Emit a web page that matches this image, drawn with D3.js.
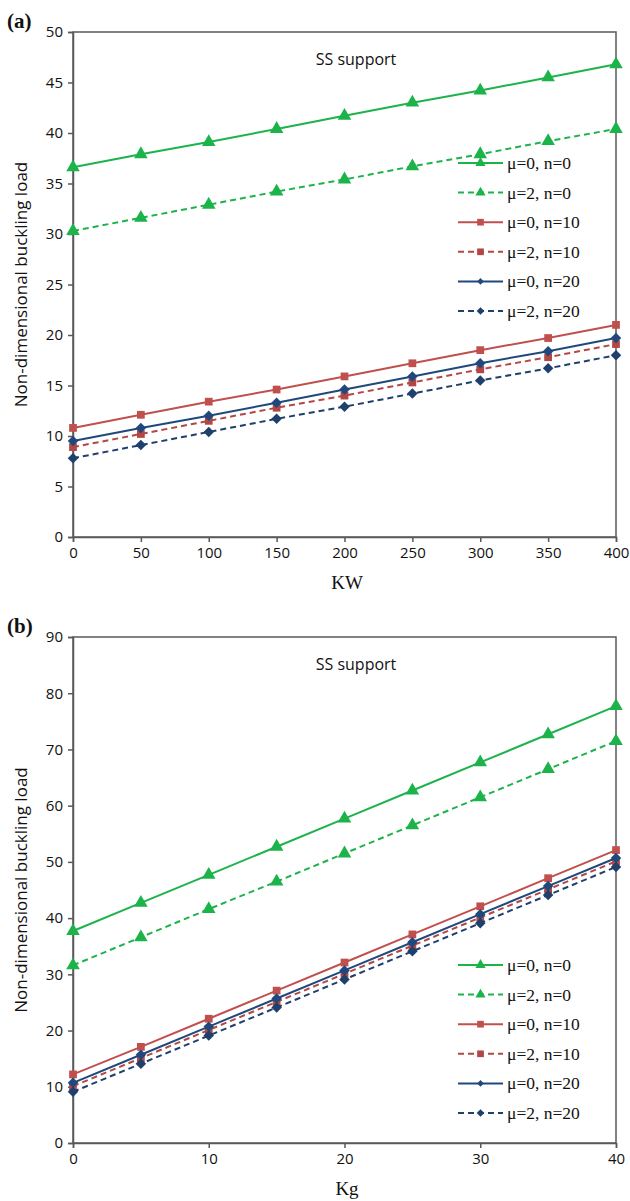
<!DOCTYPE html>
<html>
<head>
<meta charset="utf-8">
<script src="https://cdn.jsdelivr.net/npm/d3@7"></script>
<style>
  body { margin: 0; background: #fff; }
  .axis path, .axis line { stroke: #595959; }
</style>
</head>
<body>
<div id="chart"></div>
<script>
const WIDTH = 630, HEIGHT = 1201;
const SANS = "'Open Sans', 'Noto Sans', sans-serif";
const SERIF = "'Times New Roman', 'Liberation Serif', 'DejaVu Serif', serif";

// series labels (shared by both panels)
const seriesNames = ["μ=0, n=0", "μ=2, n=0", "μ=0, n=10", "μ=2, n=10", "μ=0, n=20", "μ=2, n=20"];

// panel (a): load vs KW
const kwValues = [0, 50, 100, 150, 200, 250, 300, 350, 400];
const a_mu0_n0  = [36.6, 37.9, 39.1, 40.4, 41.7, 43.0, 44.2, 45.5, 46.8];
const a_mu2_n0  = [30.3, 31.6, 32.9, 34.2, 35.4, 36.7, 37.9, 39.2, 40.4];
const a_mu0_n10 = [10.8, 12.1, 13.4, 14.6, 15.9, 17.2, 18.5, 19.7, 21.0];
const a_mu2_n10 = [8.9, 10.2, 11.5, 12.8, 14.0, 15.3, 16.6, 17.8, 19.1];
const a_mu0_n20 = [9.5, 10.8, 12.0, 13.3, 14.6, 15.9, 17.2, 18.4, 19.7];
const a_mu2_n20 = [7.8, 9.1, 10.4, 11.7, 12.9, 14.2, 15.5, 16.7, 18.0];
const a_yTicks = [0, 5, 10, 15, 20, 25, 30, 35, 40, 45, 50];

// panel (b): load vs Kg
const kgValues = [0, 5, 10, 15, 20, 25, 30, 35, 40];
const b_mu0_n0  = [37.7, 42.7, 47.7, 52.7, 57.7, 62.7, 67.7, 72.7, 77.7];
const b_mu2_n0  = [31.6, 36.6, 41.6, 46.5, 51.5, 56.5, 61.5, 66.5, 71.5];
const b_mu0_n10 = [12.2, 17.1, 22.1, 27.1, 32.1, 37.1, 42.1, 47.1, 52.1];
const b_mu2_n10 = [10.1, 15.1, 20.1, 25.1, 30.1, 35.1, 40.1, 45.1, 50.1];
const b_mu0_n20 = [10.7, 15.7, 20.7, 25.7, 30.7, 35.7, 40.7, 45.7, 50.7];
const b_mu2_n20 = [9.1, 14.1, 19.1, 24.1, 29.1, 34.1, 39.1, 44.1, 49.1];
const b_xTicks = [0, 10, 20, 30, 40];
const b_yTicks = [0, 10, 20, 30, 40, 50, 60, 70, 80, 90];

// diamond = square turned 45 degrees
const styles = [
  { color: "#1db34b", dash: null,  mark: d3.symbolTriangle, size: 80, legSize: 45, rot: 0 },
  { color: "#1db34b", dash: "6,4", mark: d3.symbolTriangle, size: 80, legSize: 45, rot: 0 },
  { color: "#c0504d", dash: null,  mark: d3.symbolSquare,   size: 60, legSize: 45, rot: 0 },
  { color: "#b34745", dash: "6,4", mark: d3.symbolSquare,   size: 60, legSize: 45, rot: 0 },
  { color: "#1f497d", dash: null,  mark: d3.symbolSquare,   size: 55, legSize: 22, rot: 45 },
  { color: "#1f3f6d", dash: "6,4", mark: d3.symbolSquare,   size: 55, legSize: 30, rot: 45 }
];

const svg = d3.select("#chart").append("svg")
  .attr("width", WIDTH).attr("height", HEIGHT);

function panel(opt) {
  const x = d3.scaleLinear().domain(opt.xDomain).range([73, 616]);
  const y = d3.scaleLinear().domain(opt.yDomain).range([opt.bottom, opt.top]);
  const g = svg.append("g");

  // frame
  g.append("rect")
    .attr("x", x.range()[0]).attr("y", opt.top)
    .attr("width", x.range()[1] - x.range()[0]).attr("height", opt.bottom - opt.top)
    .attr("fill", "none").attr("stroke", "#595959").attr("stroke-width", 1.5);

  const styleAxis = s => {
    s.selectAll("path, line").attr("stroke-width", 1.5);
    s.selectAll("text").attr("font-family", SANS).attr("font-size", 15).attr("fill", "#111");
  };
  g.append("g").attr("class", "axis")
    .attr("transform", `translate(0,${opt.bottom})`)
    .call(d3.axisBottom(x).tickValues(opt.xTicks).tickSize(5).tickPadding(5).tickFormat(d3.format("d")))
    .call(styleAxis);
  g.append("g").attr("class", "axis")
    .attr("transform", `translate(73,0)`)
    .call(d3.axisLeft(y).tickValues(opt.yTicks).tickSize(5).tickPadding(5).tickFormat(d3.format("d")))
    .call(styleAxis);

  const line = d3.line().x((d, i) => x(opt.xs[i])).y(d => y(d));
  opt.series.forEach((vals, k) => {
    const st = styles[k];
    g.append("path").datum(vals)
      .attr("d", line).attr("fill", "none")
      .attr("stroke", st.color).attr("stroke-width", 2)
      .attr("stroke-dasharray", st.dash);
    g.selectAll(null).data(vals).join("path")
      .attr("transform", (d, i) => `translate(${x(opt.xs[i])},${y(d)}) rotate(${st.rot})`)
      .attr("d", d3.symbol().type(st.mark).size(st.size))
      .attr("fill", st.color);
  });

  // legend
  const leg = g.append("g").attr("transform", `translate(458,${opt.legTop})`);
  seriesNames.forEach((name, k) => {
    const st = styles[k];
    const row = leg.append("g").attr("transform", `translate(0,${k * 29.6})`);
    row.append("line").attr("x1", 0).attr("x2", 45)
      .attr("stroke", st.color).attr("stroke-width", 2).attr("stroke-dasharray", st.dash);
    row.append("path").attr("transform", `translate(22.5,0) rotate(${st.rot})`)
      .attr("d", d3.symbol().type(st.mark).size(st.legSize)).attr("fill", st.color);
    row.append("text").attr("x", 49).attr("y", 6)
      .attr("font-family", SERIF).attr("font-size", 17.5).attr("fill", "#111")
      .text(name);
  });

  g.append("text")
    .attr("x", 356).attr("y", opt.top + 33).attr("text-anchor", "middle")
    .attr("font-family", SANS).attr("font-size", 16).attr("fill", "#111")
    .text("SS support");

  g.append("text")
    .attr("x", 347).attr("y", opt.bottom + 52).attr("text-anchor", "middle")
    .attr("font-family", SERIF).attr("font-size", 19).attr("fill", "#111")
    .text(opt.xLabel);

  g.append("text")
    .attr("transform", `translate(27,${(opt.top + opt.bottom) / 2}) rotate(-90)`)
    .attr("text-anchor", "middle")
    .attr("font-family", SANS).attr("font-size", 17).attr("fill", "#111")
    .text("Non-dimensional buckling load");

  g.append("text")
    .attr("x", 7).attr("y", opt.top - 4)
    .attr("font-family", SERIF).attr("font-size", 21).attr("font-weight", "bold").attr("fill", "#111")
    .text(opt.tag);
}

panel({
  tag: "(a)", xLabel: "KW", top: 32, bottom: 537, legTop: 163,
  xDomain: [0, 400], yDomain: [0, 50], xs: kwValues, xTicks: kwValues, yTicks: a_yTicks,
  series: [a_mu0_n0, a_mu2_n0, a_mu0_n10, a_mu2_n10, a_mu0_n20, a_mu2_n20]
});

panel({
  tag: "(b)", xLabel: "Kg", top: 637, bottom: 1143, legTop: 965,
  xDomain: [0, 40], yDomain: [0, 90], xs: kgValues, xTicks: b_xTicks, yTicks: b_yTicks,
  series: [b_mu0_n0, b_mu2_n0, b_mu0_n10, b_mu2_n10, b_mu0_n20, b_mu2_n20]
});
</script>
</body>
</html>
